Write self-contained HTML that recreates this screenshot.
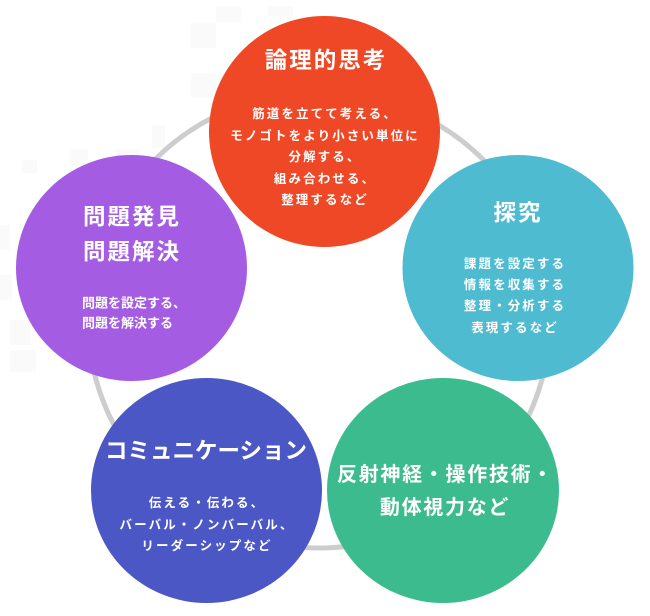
<!DOCTYPE html>
<html lang="ja">
<head>
<meta charset="utf-8">
<style>
html,body{margin:0;padding:0;background:#fff;width:650px;height:616px;overflow:hidden}
svg{display:block}
text{font-family:"Liberation Sans","Noto Sans CJK JP",sans-serif;fill:#fff;text-anchor:middle;dominant-baseline:central}
.t{font-size:22.5px;font-weight:700;letter-spacing:2px}
.s{font-size:12.5px;font-weight:700;letter-spacing:2.1px}
.p{font-size:13px;font-weight:700;letter-spacing:0;text-anchor:start}
</style>
</head>
<body>
<svg width="650" height="616" viewBox="0 0 650 616" xmlns="http://www.w3.org/2000/svg">
<g fill="#fafafa">
<rect x="191" y="23" width="25" height="25"/><rect x="191" y="73" width="25" height="25"/>
<rect x="152" y="125" width="13" height="23"/><rect x="22" y="160" width="15" height="13"/>
<rect x="70" y="149" width="18" height="16"/><rect x="115" y="149" width="25" height="8"/>
<rect x="216" y="6" width="25" height="16"/><rect x="268" y="6" width="25" height="10"/>
<rect x="0" y="225" width="10" height="25"/><rect x="0" y="275" width="12" height="25"/>
<rect x="10" y="320" width="20" height="25"/><rect x="10" y="350" width="26" height="22"/>
</g>
<ellipse cx="319" cy="320" rx="231" ry="228" fill="none" stroke="#cdcdcd" stroke-width="5"/>
<ellipse cx="324.5" cy="131.5" rx="115.5" ry="115.5" fill="#ee4826"/>
<ellipse cx="131.5" cy="268" rx="115.5" ry="113" fill="#a45ce2"/>
<ellipse cx="518" cy="268" rx="115.5" ry="113" fill="#4fbbd0"/>
<ellipse cx="206.5" cy="490.5" rx="115.5" ry="112.5" fill="#4b57c4"/>
<ellipse cx="443" cy="490.5" rx="116" ry="112.5" fill="#3cbc8e"/>

<text class="t" x="326" y="60.5">論理的思考</text>
<text class="s" x="325" y="114">筋道を立てて考える、</text>
<text class="s" x="325" y="136">モノゴトをより小さい単位に</text>
<text class="s" x="325" y="157">分解する、</text>
<text class="s" x="325" y="179">組み合わせる、</text>
<text class="s" x="325" y="200">整理するなど</text>

<text class="t" x="132" y="217">問題発見</text>
<text class="t" x="132" y="252">問題解決</text>
<text class="p" x="82" y="303">問題を設定する、</text>
<text class="p" x="82" y="323">問題を解決する</text>

<text class="t" x="518" y="213">探究</text>
<text class="s" x="515" y="264">課題を設定する</text>
<text class="s" x="515" y="285">情報を収集する</text>
<text class="s" x="515" y="306">整理・分析する</text>
<text class="s" x="515" y="328">表現するなど</text>

<text class="t" x="206" y="451" style="letter-spacing:0">コミュニケーション</text>
<text class="s" x="207" y="503">伝える・伝わる、</text>
<text class="s" x="207" y="525">バーバル・ノンバーバル、</text>
<text class="s" x="207" y="546">リーダーシップなど</text>

<text class="t" x="445.5" y="475" style="font-size:20px;letter-spacing:1.7px">反射神経・操作技術・</text>
<text class="t" x="445" y="508" style="font-size:20px;letter-spacing:1.7px">動体視力など</text>
</svg>
</body>
</html>
